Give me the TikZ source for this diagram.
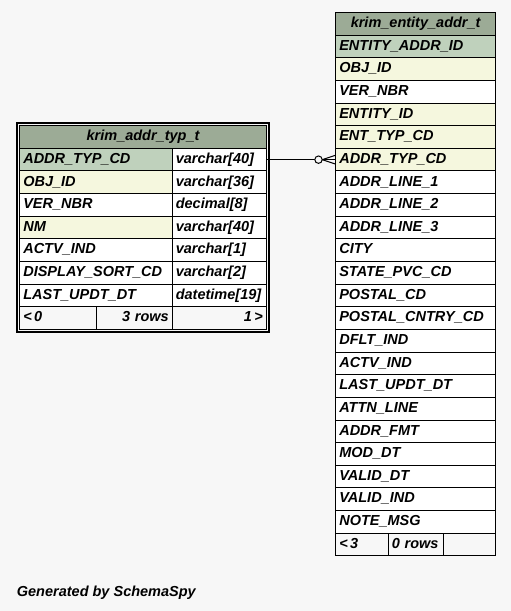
\documentclass[tikz,border=0pt]{standalone}
\usepackage{fontspec}
\setmainfont{Liberation Sans}
\usepackage{tikz}
\usetikzlibrary{positioning}

\definecolor{bggray}{RGB}{247,247,247}
\definecolor{hdr}{RGB}{156,171,150}
\definecolor{pk}{RGB}{191,209,188}
\definecolor{idx}{RGB}{245,247,222}

\tikzset{
  cell/.style={draw=black, line width=1pt, anchor=north west, outer sep=0pt,
    inner xsep=3.5pt, inner ysep=0pt, minimum height=\rowh pt,
    text height=10.4pt, text depth=3pt, align=left,
    font=\fontsize{14.5}{17}\selectfont\bfseries\itshape},
  link/.style={draw=black, line width=1pt}
}

\begin{document}
\begin{tikzpicture}[x=1pt,y=-1pt]
    \xdef\rowh{22.64}
    \fill[bggray] (0,0) rectangle (511,611);

    % krim_entity_addr_t
    \xdef\ex{335.8}
    \xdef\ey{12.5}
    \node[cell, fill=hdr, text width=152.7pt, align=center] (entaddr-h) at (\ex,\ey) {krim\_entity\_addr\_t};
    \foreach \nm/\fl [count=\i] in {ENTITY\_ADDR\_ID/pk, OBJ\_ID/idx, VER\_NBR/white,
        ENTITY\_ID/idx, ENT\_TYP\_CD/idx, ADDR\_TYP\_CD/idx, ADDR\_LINE\_1/white,
        ADDR\_LINE\_2/white, ADDR\_LINE\_3/white, CITY/white, STATE\_PVC\_CD/white,
        POSTAL\_CD/white, POSTAL\_CNTRY\_CD/white, DFLT\_IND/white, ACTV\_IND/white,
        LAST\_UPDT\_DT/white, ATTN\_LINE/white, ADDR\_FMT/white, MOD\_DT/white,
        VALID\_DT/white, VALID\_IND/white, NOTE\_MSG/white}
      \node[cell, fill=\fl, text width=152.7pt] (entaddr-c\i) at (\ex,\ey+\i*\rowh) {\nm};
    \node[cell, fill=bggray, text width=45.5pt] (entaddr-f1) at (\ex,\ey+23*\rowh) {<\,3};
    \node[cell, fill=bggray, text width=48pt, right=0pt of entaddr-f1] (entaddr-f2) {0 rows};
    \node[cell, fill=bggray, text width=45.2pt, right=0pt of entaddr-f2] (entaddr-f3) {};

    % krim_addr_typ_t
    \xdef\lx{19.8}
    \xdef\ly{125.7}
    \node[cell, fill=hdr, text width=239.5pt, align=center] (addrtyp-h) at (\lx,\ly) {krim\_addr\_typ\_t};
    \foreach \nm/\ty/\fl [count=\i] in {ADDR\_TYP\_CD/varchar[40]/pk, OBJ\_ID/varchar[36]/idx,
        VER\_NBR/decimal[8]/white, NM/varchar[40]/idx, ACTV\_IND/varchar[1]/white,
        DISPLAY\_SORT\_CD/varchar[2]/white, LAST\_UPDT\_DT/datetime[19]/white} {
      \node[cell, fill=\fl, text width=145.5pt] (addrtyp-c\i) at (\lx,\ly+\i*\rowh) {\nm};
      \node[cell, fill=white, text width=87pt, right=0pt of addrtyp-c\i] (addrtyp-t\i) {\ty};
    }
    \node[cell, fill=bggray, text width=69.9pt] (addrtyp-f1) at (\lx,\ly+8*\rowh) {<\,0};
    \node[cell, fill=bggray, text width=68.6pt, align=right, right=0pt of addrtyp-f1] (addrtyp-f2) {3 rows};
    \node[cell, fill=bggray, text width=87pt, align=right, right=0pt of addrtyp-f2] (addrtyp-f3) {1\,>};
    % selected table frame
    \draw[line width=2pt] ([shift={(-2.8,-2.8)}]addrtyp-h.north west) rectangle ([shift={(3,3)}]addrtyp-f3.south east);

    % addr type -> entity addr
    \draw[link] (addrtyp-t1.east) -- (entaddr-c6.west);
    \draw[link] ([xshift=-13.5pt]entaddr-c6.west) -- ([yshift=-4.5pt]entaddr-c6.west);
    \draw[link] ([xshift=-13.5pt]entaddr-c6.west) -- ([yshift=4.5pt]entaddr-c6.west);
    \draw[link, fill=bggray] ([xshift=-17.3pt]entaddr-c6.west) circle (3.7pt);

    \node[anchor=base west, inner sep=0pt, font=\fontsize{14.5}{17}\selectfont\bfseries\itshape] (credit) at (16.7,596) {Generated by SchemaSpy};
\end{tikzpicture}
\end{document}
